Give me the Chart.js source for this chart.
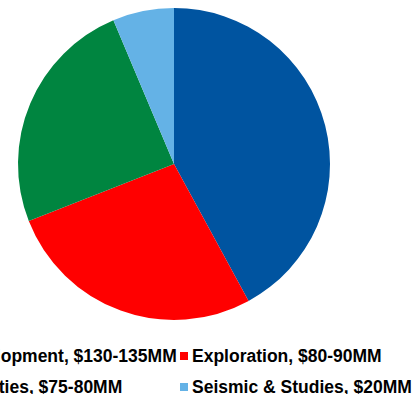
<!DOCTYPE html>
<html>
<head>
<meta charset="utf-8">
<script src="https://cdn.jsdelivr.net/npm/chart.js@4"></script>
<style>
  html, body { margin: 0; padding: 0; background: #fff; overflow: hidden; }
  #wrap { position: relative; width: 412px; height: 394px; overflow: hidden; }
  #c { position: absolute; left: 0; top: 0; }
  .item { position: absolute; display: flex; align-items: center; white-space: nowrap;
          font-family: "Liberation Sans", Arial, sans-serif; font-weight: bold; font-size: 17.5px;
          line-height: 20px; color: #000; }
  .box { width: 8px; height: 8px; margin-right: 4px; flex: none; }
</style>
</head>
<body>
<div id="wrap">
  <canvas id="c" width="412" height="340"></canvas>
  <div id="legend"></div>
</div>
<script>
const categories = ["Development, $130-135MM", "Exploration, $80-90MM", "Facilities, $75-80MM", "Seismic & Studies, $20MM"];
const values = [132.5, 85, 77.5, 20];
const colors = ["#0054A0", "#FF0000", "#008540", "#64B2E6"];

new Chart(document.getElementById('c'), {
  type: 'pie',
  data: {
    labels: categories,
    datasets: [{ data: values, backgroundColor: colors, borderWidth: 0 }]
  },
  options: {
    responsive: false,
    animation: false,
    layout: { padding: { left: 18, right: 82, top: 8, bottom: 20 } },
    plugins: { legend: { display: false }, tooltip: { enabled: false } }
  }
});

// Legend: two columns, Excel-style grid
const legend = document.getElementById('legend');
const colX = [-58, 180];
const rowY = [346, 377];
categories.forEach((label, i) => {
  const d = document.createElement('div');
  d.className = 'item';
  d.style.left = colX[i % 2] + 'px';
  d.style.top = rowY[Math.floor(i / 2)] + 'px';
  const b = document.createElement('span');
  b.className = 'box';
  b.style.background = colors[i];
  const t = document.createElement('span');
  t.textContent = label;
  d.appendChild(b);
  d.appendChild(t);
  legend.appendChild(d);
});
</script>
</body>
</html>
